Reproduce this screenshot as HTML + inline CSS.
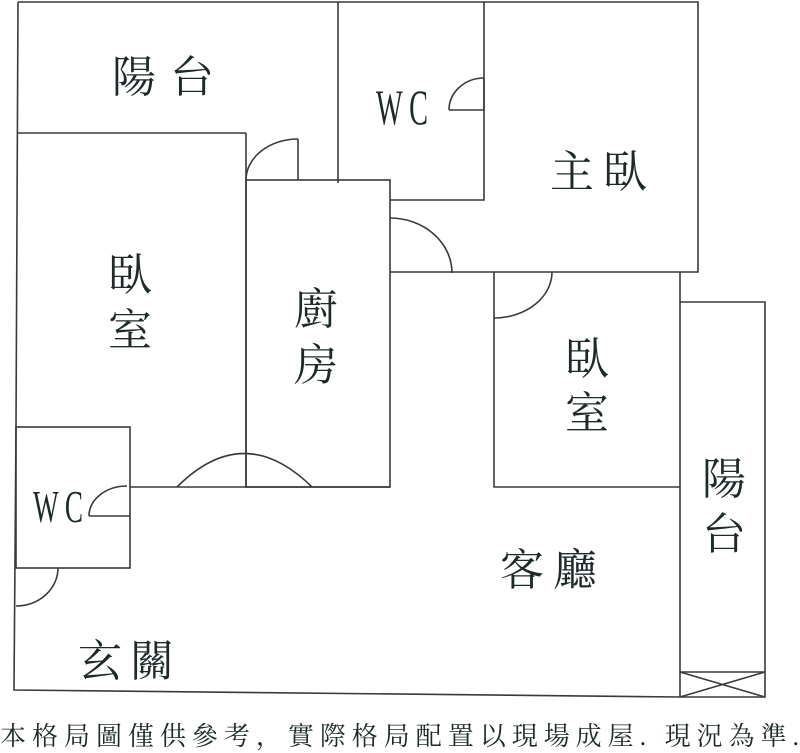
<!DOCTYPE html>
<html><head><meta charset="utf-8"><style>
html,body{margin:0;padding:0;background:#fff;}
svg{display:block;}
.t{font-family:"Liberation Serif","Noto Serif CJK SC",serif;fill:#1e2a2a;}
</style></head><body>
<svg width="800" height="753" viewBox="0 0 800 753" xmlns="http://www.w3.org/2000/svg">
<g fill="none" stroke="#3a3a3a" stroke-width="1.6">
<polyline points="18,2 698,2 698,272 390,272"/>
<polyline points="18,2 16,427 14,690 680,697"/>
<line x1="18" y1="133" x2="246" y2="133"/>
<line x1="246" y1="133" x2="246" y2="487"/>
<rect x="246" y="180" width="144" height="307"/>
<line x1="338" y1="2" x2="338" y2="183"/>
<polyline points="484,2 484,200 390,200"/>
<line x1="298" y1="139" x2="298" y2="180"/>
<path d="M246,180 A52,41 0 0 1 298,139"/>
<polyline points="484,78 484,110 449,110"/>
<path d="M449,110 A35,32 0 0 1 484,78"/>
<path d="M390,218 A62,55 0 0 1 452,273"/>
<polyline points="494,272 494,487 680,487"/>
<path d="M494,318 A58,46 0 0 0 552,272"/>
<line x1="130" y1="487" x2="390" y2="487"/>
<path d="M177,487 Q244,420 312,487"/>
<rect x="16" y="427" width="114" height="141"/>
<line x1="89" y1="516" x2="130" y2="516"/>
<path d="M89,516 A38,30 0 0 1 127,486"/>
<path d="M58,568 A42,38 0 0 1 16,606"/>
<line x1="680" y1="272" x2="680" y2="697"/>
<polyline points="680,302 765,302 765,697 680,697"/>
<line x1="680" y1="672" x2="765" y2="672"/>
<line x1="680" y1="672" x2="765" y2="697"/>
<line x1="680" y1="697" x2="765" y2="672"/>
</g>
<g class="t" font-size="44">
<text x="112" y="92">陽</text><text x="170" y="92">台</text>
<text x="550" y="187">主</text><text x="603" y="187">臥</text>
<text x="108" y="290">臥</text><text x="108" y="345">室</text>
<text x="294" y="324">廚</text><text x="294" y="380">房</text>
<text x="565" y="374">臥</text><text x="565" y="428">室</text>
<text x="702" y="494">陽</text><text x="702" y="549">台</text>
<text x="500" y="585">客</text><text x="553" y="585">廳</text>
<text x="78" y="676">玄</text><text x="130" y="676">關</text>
<text x="376" y="124" textLength="52" lengthAdjust="spacingAndGlyphs" font-size="50">W C</text>
<text x="33" y="522" textLength="50" lengthAdjust="spacingAndGlyphs" font-size="46">W C</text>
</g>
<text class="t" x="0" y="745" font-size="26" textLength="799" lengthAdjust="spacing" fill="#333">本格局圖僅供參考，實際格局配置以現場成屋. 現況為準.</text>
</svg>
</body></html>
